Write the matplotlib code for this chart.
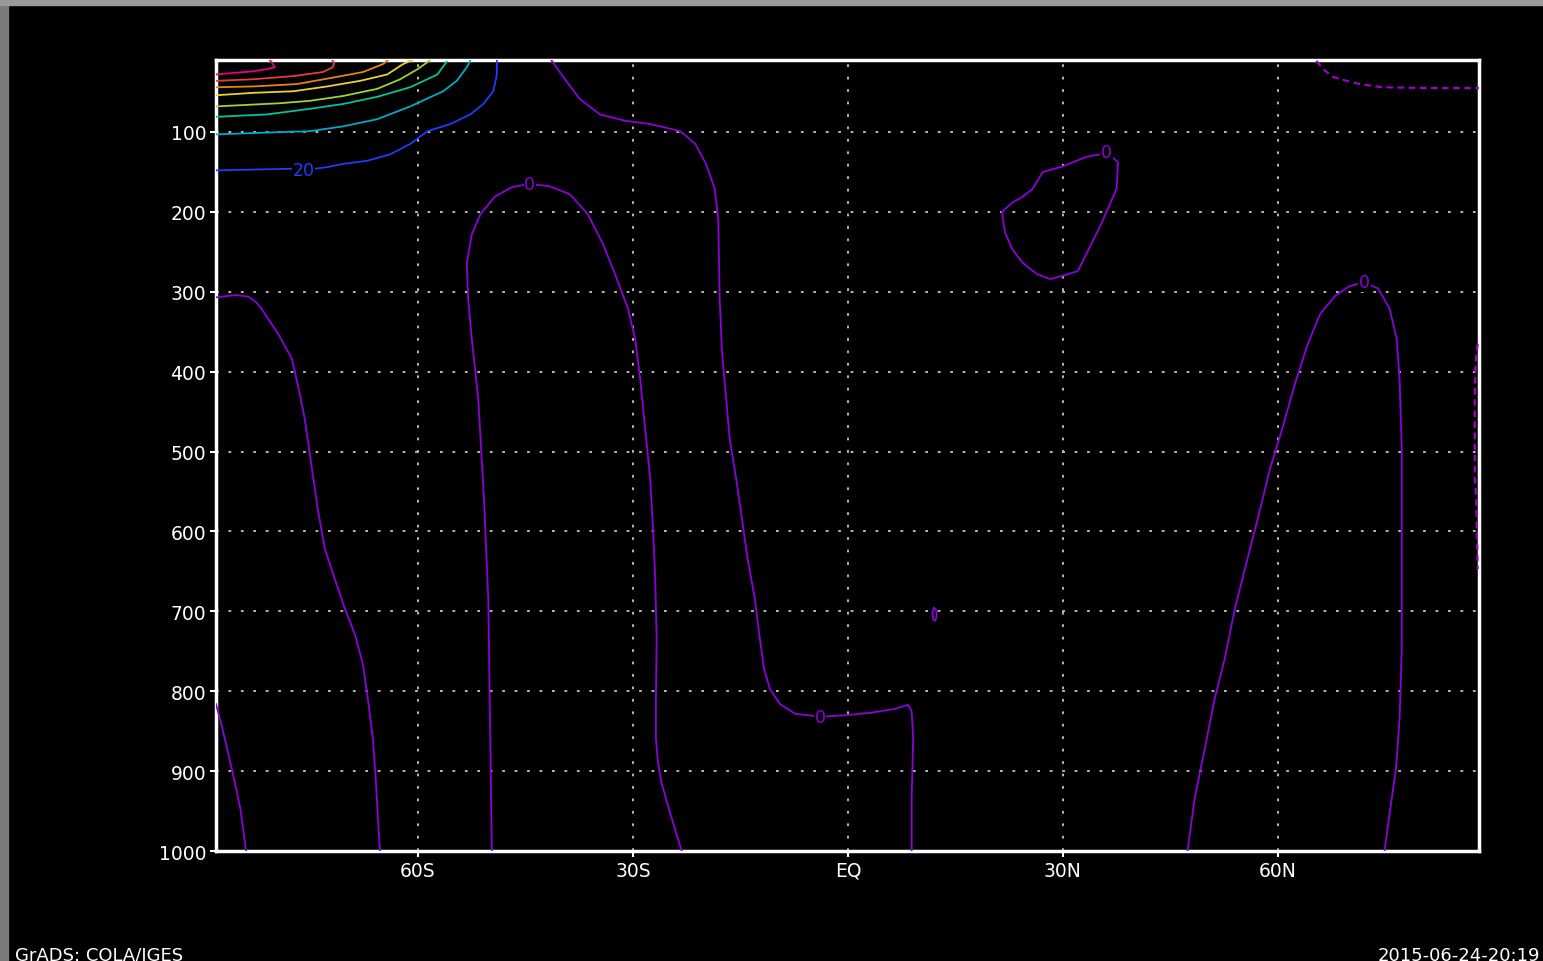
import matplotlib
matplotlib.use("Agg")
import matplotlib.pyplot as plt
from matplotlib.patches import Rectangle

# zonal-mean cross section, contours (lat in deg, pressure in hPa)
lat_ticks = [-60, -30, 0, 30, 60]
lat_labels = ["60S", "30S", "EQ", "30N", "60N"]
p_ticks = [100, 200, 300, 400, 500, 600, 700, 800, 900, 1000]

# zero contours
z_sw_lat = [-88.2, -85.5, -83.7, -82.6, -81.8, -79.5, -77.6, -76.5, -75.8, -74.8, -74.0, -73.0, -71.6,
            -70.2, -68.8, -67.7, -67.0, -66.3, -65.9, -65.6, -65.3]
z_sw_p = [307, 304, 306, 313, 322, 353, 384, 428, 460, 522, 572, 622, 660, 697, 729, 766, 810, 860,
          910, 960, 1000]

z_corner_lat = [-88.2, -87.3, -86.0, -84.8, -84.0]
z_corner_p = [816, 847, 897, 947, 1000]

z_loop_lat = [-49.7, -50.0, -50.2, -50.8, -51.6, -52.5, -53.0, -53.2, -52.5, -51.3, -49.3, -46.9,
              -44.4, -41.6, -38.8, -36.3, -34.2, -32.5, -30.7, -29.7, -29.0, -28.3, -27.6, -27.2,
              -26.9, -26.7, -26.8, -26.8, -26.5, -26.0, -24.8, -23.2]
z_loop_p = [1000, 809, 684, 559, 434, 359, 309, 265, 228, 203, 181, 169, 165, 168, 178, 203, 240,
            278, 321, 359, 409, 472, 534, 597, 659, 734, 809, 860, 890, 915, 953, 1000]

z_trop_lat = [-41.4, -39.5, -37.4, -34.6, -31.1, -27.6, -23.4, -21.3, -19.8, -18.6, -18.1, -18.0,
              -17.9, -17.6, -17.0, -16.5, -15.6, -14.8, -14.0, -13.0, -12.3, -11.7, -10.9, -9.5,
              -7.4, -3.9, -0.4, 3.1, 6.6, 8.4, 8.9, 9.1, 8.9, 8.9]
z_trop_p = [10, 34, 59, 78, 86, 90, 99, 115, 140, 171, 209, 259, 309, 372, 434, 484, 534, 584, 634,
            684, 734, 772, 797, 816, 828, 832, 830, 827, 822, 817, 825, 859, 934, 1000]

z_cell_lat = [21.5, 23.0, 24.4, 25.8, 27.2, 30.0, 33.3, 35.2, 36.1, 37.7, 37.5, 35.2, 32.1, 30.0,
              28.2, 26.4, 24.3, 22.9, 21.9, 21.5]
z_cell_p = [200, 188, 181, 171, 150, 143, 131, 128, 125, 138, 171, 218, 274, 280, 284, 278, 263,
            246, 225, 200]

z_ne_lat = [47.4, 48.4, 49.8, 51.2, 52.6, 54.0, 55.4, 57.2, 58.9, 60.6, 62.4, 64.2, 65.9, 68.0,
            70.0, 72.1, 74.0, 75.6, 76.6, 77.0, 77.3, 77.3, 77.3, 77.0, 76.5, 75.7, 74.9]
z_ne_p = [1000, 934, 872, 809, 759, 697, 647, 584, 522, 472, 415, 365, 328, 305, 293, 288, 296,
          321, 359, 409, 497, 622, 747, 834, 897, 947, 1000]

z_dot_lat = [12.0, 11.8, 11.9, 12.2, 12.4, 12.3, 12.0]
z_dot_p = [696, 702, 710, 712, 705, 698, 696]

# negative contours (dashed)
neg_top_lat = [65.4, 66.3, 67.7, 69.6, 71.4, 74.6, 81.6, 88.1]
neg_top_p = [11, 21, 31, 36, 40, 44, 45, 45]
neg_edge_lat = [87.9, 87.6, 87.5, 87.5, 87.7, 87.9]
neg_edge_p = [365, 390, 434, 534, 559, 647]

# positive contours, polar night jet (levels 20, 30, ... 90)
jet_levels = [20, 30, 40, 50, 60, 70, 80, 90]
jet_colors = ["#1e3cff", "#00aac8", "#00c39a", "#a0d232", "#e6d232", "#e6821e", "#e63c3c", "#e60082"]
jet_lat = [
    [-88.2, -77.6, -74.4, -72.7, -70.5, -67.1, -63.9, -61.1, -58.7, -55.5, -52.7, -50.9, -49.5, -49.0, -49.0],
    [-88.2, -78.8, -75.1, -70.5, -65.7, -61.1, -56.5, -54.6, -53.2, -52.7],
    [-88.2, -81.1, -75.1, -70.5, -65.7, -61.1, -57.3, -56.0],
    [-88.2, -79.3, -75.1, -70.5, -65.7, -62.5, -60.0, -58.3],
    [-88.2, -83.0, -77.4, -72.7, -68.1, -64.3, -62.1, -60.8],
    [-88.2, -83.0, -76.9, -71.3, -67.7, -64.9, -64.2],
    [-88.2, -83.0, -77.4, -73.3, -71.9, -71.7, -72.0],
    [-88.2, -83.0, -80.9, -80.0, -80.4, -80.7],
]
jet_p = [
    [148, 146, 146, 144, 140, 136, 128, 115, 99, 90, 78, 65, 49, 28, 10],
    [103, 100, 99, 93, 84, 68, 49, 36, 19, 10],
    [81, 78, 71, 65, 56, 44, 28, 12],
    [68, 64, 61, 55, 46, 34, 21, 10],
    [54, 51, 49, 43, 36, 28, 15, 10],
    [44, 43, 40, 31, 25, 15, 10],
    [36, 34, 30, 25, 19, 13, 10],
    [28, 24, 21, 19, 13, 10],
]

zero_color = "#8c00dc"
neg_color = "#a000c8"
grid_color = "#b9b9b9"

fig = plt.figure(figsize=(15.43, 9.62), dpi=100, facecolor="black")
ax = fig.add_axes([0.1400, 0.1143, 0.8186, 0.8222], facecolor="black")

# screenshot frame on the top and left
fig.patches.append(Rectangle((0, 0), 8 / 1543, 1, transform=fig.transFigure, color="#7a7a7a", zorder=0))
fig.patches.append(Rectangle((0, 1 - 6 / 962), 1, 6 / 962, transform=fig.transFigure, color="#9a9a9a", zorder=0))

for lv, col, la, pp in zip(jet_levels, jet_colors, jet_lat, jet_p):
    ax.plot(la, pp, color=col, lw=1.3, zorder=3)

for la, pp in [(z_sw_lat, z_sw_p), (z_corner_lat, z_corner_p), (z_loop_lat, z_loop_p),
               (z_trop_lat, z_trop_p), (z_cell_lat, z_cell_p), (z_ne_lat, z_ne_p),
               (z_dot_lat, z_dot_p)]:
    ax.plot(la, pp, color=zero_color, lw=1.3, zorder=3)

for la, pp in [(neg_top_lat, neg_top_p), (neg_edge_lat, neg_edge_p)]:
    ax.plot(la, pp, color=neg_color, lw=1.6, dashes=(3, 2), zorder=3)

# contour labels
lab = dict(ha="center", va="center", fontsize=12.5, zorder=5,
           bbox=dict(facecolor="black", edgecolor="none", pad=0.5))
ax.text(-76.0, 147, "20", color=jet_colors[0], **lab)
for la, pp in [(-44.4, 165), (-3.9, 832), (36.1, 125), (72.1, 288)]:
    ax.text(la, pp, "0", color=zero_color, **lab)

ax.set_xlim(-88.2, 88.1)
ax.set_ylim(1000, 10)
ax.set_xticks(lat_ticks)
ax.set_xticklabels(lat_labels)
ax.set_yticks(p_ticks)
ax.set_yticklabels([str(p) for p in p_ticks])
ax.tick_params(colors="white", labelcolor="white", labelsize=13.5, length=4, width=1.5,
               direction="out", pad=3)
ax.grid(True, color=grid_color, lw=1.4, dashes=(1.4, 5))
ax.set_axisbelow(True)
for s in ax.spines.values():
    s.set_color("white")
    s.set_linewidth(2.5)

fig.text(15 / 1543, 15 / 962, "GrADS: COLA/IGES", color="white", fontsize=13, ha="left", va="top")
fig.text(1540 / 1543, 15 / 962, "2015-06-24-20:19", color="white", fontsize=13, ha="right", va="top")

fig.savefig("out.png", dpi=100, facecolor="black")
